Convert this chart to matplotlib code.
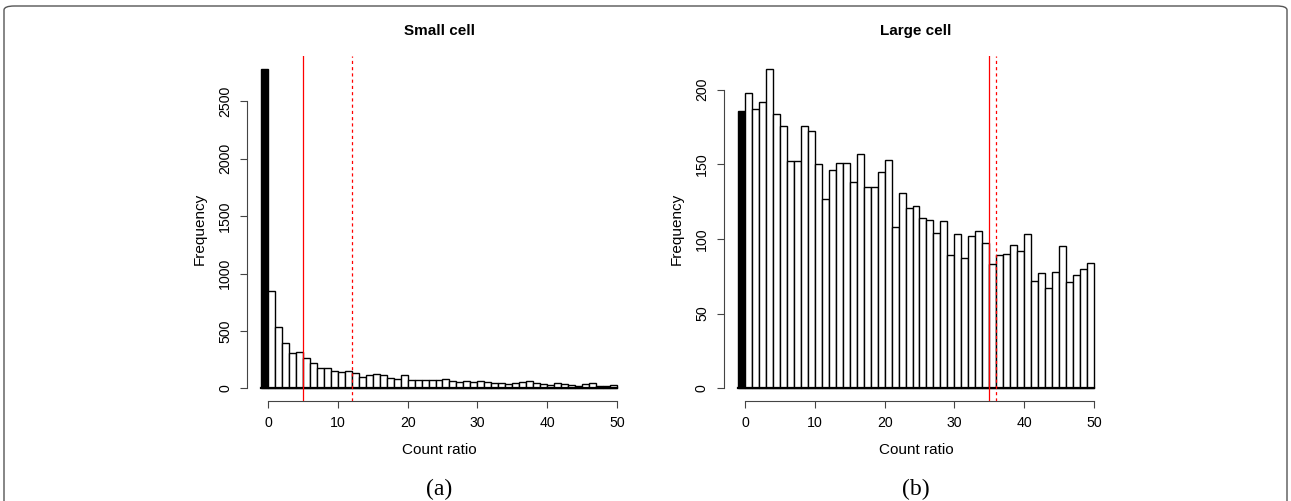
import matplotlib
matplotlib.use("Agg")
import matplotlib.pyplot as plt
import numpy as np
from matplotlib.patches import FancyBboxPatch

# histogram counts, bin (-1,0] drawn black, then bins 0-1 ... 49-50
small_zero = 2785
small_counts = [844, 530, 394, 303, 314, 265, 218, 179, 172, 154,
                139, 154, 137, 99, 119, 122, 111, 93, 81, 111,
                76, 76, 73, 73, 76, 84, 67, 58, 67, 52,
                64, 52, 49, 49, 41, 47, 52, 61, 47, 41,
                32, 47, 41, 26, 23, 41, 49, 23, 23, 29]
large_zero = 186
large_counts = [198, 187, 192, 214, 184, 176, 152, 152, 176, 172,
                150, 127, 146, 151, 151, 138, 157, 135, 135, 145,
                153, 108, 131, 121, 122, 114, 113, 104, 112, 89,
                103, 87, 102, 105, 97, 83, 89, 90, 96, 92,
                103, 72, 77, 67, 78, 95, 71, 76, 80, 84]
small_lines = [5, 12]   # solid, dashed
large_lines = [35, 36]
x_ticks = [0, 10, 20, 30, 40, 50]
small_yticks = [0, 500, 1000, 1500, 2000, 2500]
large_yticks = [0, 50, 100, 150, 200]

plt.rcParams['font.family'] = ['Liberation Sans', 'DejaVu Sans']

fig = plt.figure(figsize=(12.91, 5.01), dpi=100)

# rounded frame around the whole figure (bottom cut off)
frame = FancyBboxPatch((4 / 1291, -0.05), 1283 / 1291, 0.05 + 495 / 501,
                       boxstyle="round,pad=0,rounding_size=0.008",
                       transform=fig.transFigure, fill=False,
                       edgecolor='#555555', linewidth=1.0)
fig.patches.append(frame)


def draw_hist(ax, zero, counts, lines, yticks, title, letter):
    edges = np.arange(0, len(counts))
    ax.bar([-1], [zero], width=1, align='edge', color='black',
           edgecolor='black', linewidth=1.0)
    ax.bar(edges, counts, width=1, align='edge', color='white',
           edgecolor='black', linewidth=1.0)
    ax.plot([-1, 50], [0, 0], color='black', linewidth=1.6)
    ax.axvline(lines[0], color='red', linewidth=0.9, zorder=3)
    ax.axvline(lines[1], color='red', linewidth=0.9, linestyle=(0, (2.5, 2.5)), zorder=3)

    top = max(max(counts), zero)
    ax.set_xlim(-1 - 0.04 * 51, 50 + 0.04 * 51)
    ax.set_ylim(-0.04 * top, top * 1.04)

    for s in ['top', 'right']:
        ax.spines[s].set_visible(False)
    ax.spines['left'].set_bounds(yticks[0], yticks[-1])
    ax.spines['bottom'].set_bounds(0, 50)
    ax.spines['left'].set_color('#444444')
    ax.spines['bottom'].set_color('#444444')
    ax.set_xticks(x_ticks)
    ax.set_yticks(yticks)
    ax.set_yticklabels([str(t) for t in yticks], rotation=90, va='center')
    ax.tick_params(length=4.8, width=0.8, color='#444444', labelsize=10.2, pad=6)
    ax.set_xlabel('Count ratio', fontsize=11, labelpad=9)
    ax.set_ylabel('Frequency', fontsize=11, labelpad=8)
    ax.set_title(title, fontsize=11, fontweight='bold', pad=15)
    ax.patch.set_visible(False)
    ax.text(0.5, -0.257, letter, transform=ax.transAxes, ha='center', va='center',
            fontsize=17, family=['Liberation Serif', 'DejaVu Serif'])


ax1 = fig.add_axes([247 / 1291, 100 / 501, 384 / 1291, 345 / 501])
draw_hist(ax1, small_zero, small_counts, small_lines, small_yticks, 'Small cell', '(a)')

ax2 = fig.add_axes([724 / 1291, 100 / 501, 384 / 1291, 345 / 501])
draw_hist(ax2, large_zero, large_counts, large_lines, large_yticks, 'Large cell', '(b)')

fig.savefig('out.png', dpi=100)
